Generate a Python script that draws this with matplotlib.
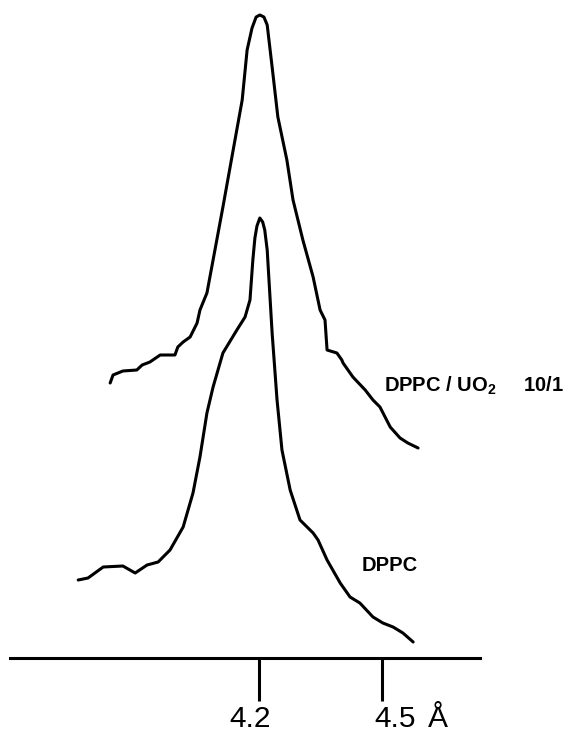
import matplotlib
matplotlib.use("Agg")
import matplotlib.pyplot as plt

# --- データ (d-spacing [Å] と 強度 [任意単位]) ---
# DPPC / UO2 10/1 の回折プロファイル
x_uo2 = [3.837, 3.844, 3.868, 3.902, 3.915, 3.934, 3.959, 3.995, 4.002, 4.015,
         4.032, 4.049, 4.056, 4.073, 4.088, 4.112, 4.137, 4.159, 4.171, 4.183,
         4.193, 4.202, 4.212, 4.220, 4.232, 4.246, 4.268, 4.283, 4.307, 4.332,
         4.349, 4.361, 4.366, 4.390, 4.402, 4.405, 4.429, 4.459, 4.478, 4.495,
         4.520, 4.544, 4.563, 4.588]
y_uo2 = [2.77, 2.85, 2.89, 2.90, 2.95, 2.98, 3.05, 3.05, 3.13, 3.18,
         3.23, 3.37, 3.50, 3.67, 4.00, 4.53, 5.10, 5.60, 6.10, 6.32,
         6.43, 6.45, 6.43, 6.35, 5.93, 5.43, 5.00, 4.60, 4.20, 3.83,
         3.50, 3.40, 3.10, 3.07, 3.00, 2.97, 2.83, 2.70, 2.60, 2.53,
         2.33, 2.22, 2.17, 2.12]

# DPPC 単独の回折プロファイル
x_dppc = [3.759, 3.783, 3.820, 3.868, 3.898, 3.927, 3.954, 3.983, 4.015, 4.039,
          4.056, 4.073, 4.088, 4.112, 4.146, 4.166, 4.178, 4.185, 4.190, 4.195,
          4.202, 4.209, 4.214, 4.220, 4.232, 4.244, 4.256, 4.276, 4.300, 4.332,
          4.344, 4.366, 4.398, 4.422, 4.446, 4.478, 4.502, 4.527, 4.551, 4.576]
y_dppc = [0.80, 0.82, 0.93, 0.94, 0.87, 0.95, 0.98, 1.10, 1.33, 1.67,
          2.03, 2.47, 2.73, 3.07, 3.30, 3.43, 3.60, 4.00, 4.22, 4.34,
          4.42, 4.38, 4.30, 4.10, 3.27, 2.60, 2.10, 1.70, 1.40, 1.27,
          1.20, 1.00, 0.77, 0.63, 0.57, 0.43, 0.37, 0.33, 0.27, 0.18]

TICKS = [4.2, 4.5]
TICK_LABELS = ["4.2", "4.5"]
LABEL_SHIFT = [-6.5, 9.5]   # 目盛り位置からの横ずれ (pt)

plt.rcParams["font.family"] = ["Liberation Sans", "DejaVu Sans"]
plt.rcParams["mathtext.fontset"] = "custom"
plt.rcParams["mathtext.rm"] = "Liberation Sans:bold"
plt.rcParams["mathtext.default"] = "rm"

LW = 2.2

fig = plt.figure(figsize=(5.72, 7.35), dpi=100)
ax = fig.add_axes([10 / 572, 77 / 735, 470 / 572, 658 / 735])
ax.set_xlim(3.5927, 4.739)
ax.set_ylim(0.02, 6.60)

ax.plot(x_uo2, y_uo2, color="black", lw=LW, solid_joinstyle="round",
        solid_capstyle="round", clip_on=False)
ax.plot(x_dppc, y_dppc, color="black", lw=LW, solid_joinstyle="round",
        solid_capstyle="round", clip_on=False)

# 軸まわり
for side in ["top", "left", "right"]:
    ax.spines[side].set_visible(False)
ax.spines["bottom"].set_linewidth(LW)
ax.set_yticks([])
ax.set_xticks(TICKS)
ax.set_xticklabels([])
ax.tick_params(axis="x", direction="out", length=31, width=LW)

# 目盛りラベル (少し左右にずれている)
for t, lab, dx in zip(TICKS, TICK_LABELS, LABEL_SHIFT):
    ax.annotate(lab, xy=(t, 0.02), xycoords="data", xytext=(dx, -50),
                textcoords="offset points", fontsize=21.5, ha="center",
                va="baseline", annotation_clip=False)

# Å 記号
ax.annotate("Å", xy=(4.5, 0.02), xycoords="data", xytext=(33, -50),
            textcoords="offset points", fontsize=21.5, ha="left",
            va="baseline", annotation_clip=False)

# ラベル
ax.text(4.505, 2.68, "DPPC / UO$_2$     10/1", fontsize=14.5,
        fontweight="bold", ha="left", va="baseline")
ax.text(4.451, 0.89, "DPPC", fontsize=14.5, fontweight="bold",
        ha="left", va="baseline")

fig.savefig("out.png", dpi=100)
